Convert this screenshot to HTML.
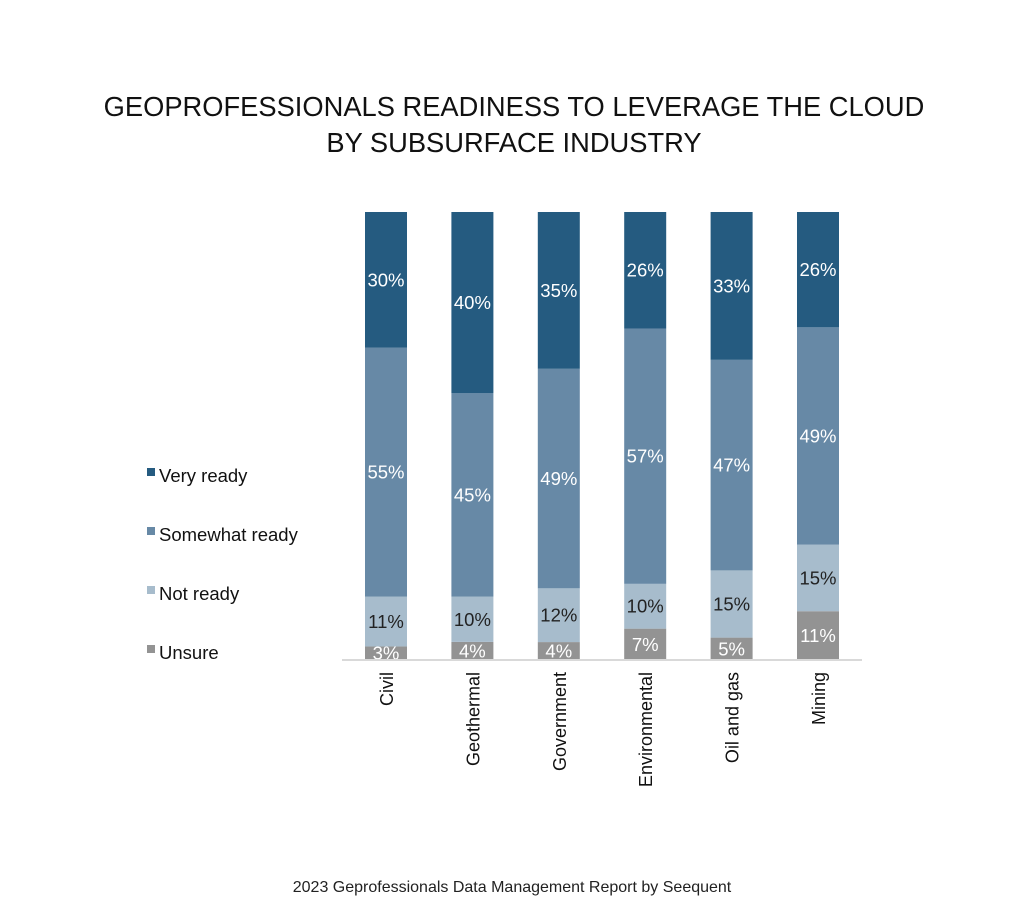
<!DOCTYPE html>
<html><head><meta charset="utf-8"><style>
body{margin:0;background:#fff;width:1024px;height:919px;overflow:hidden;font-family:"Liberation Sans",sans-serif}
svg{display:block}
</style></head><body>
<svg id="chart" width="1024" height="919" viewBox="0 0 1024 919" xmlns="http://www.w3.org/2000/svg">
<text x="514" y="116" text-anchor="middle" font-size="27.3" fill="#111" font-family="Liberation Sans, sans-serif">GEOPROFESSIONALS READINESS TO LEVERAGE THE CLOUD</text>
<text x="514" y="152" text-anchor="middle" font-size="27.3" fill="#111" font-family="Liberation Sans, sans-serif">BY SUBSURFACE INDUSTRY</text>
<g id="bars"></g>
<line x1="342" y1="660" x2="862" y2="660" stroke="#d9d9d9" stroke-width="2"/>
<g id="legend"></g>
<text x="512" y="892" text-anchor="middle" font-size="16" fill="#222">2023 Geprofessionals Data Management Report by Seequent</text>
</svg>
<script>
const categories=["Civil","Geothermal","Government","Environmental","Oil and gas","Mining"];
const unsure=[3,4,4,7,5,11];
const notReady=[11,10,12,10,15,15];
const somewhatReady=[55,45,49,57,47,49];
const veryReady=[30,40,35,26,33,26];
const seriesNames=["Unsure","Not ready","Somewhat ready","Very ready"];
const NS="http://www.w3.org/2000/svg";
const series=[unsure,notReady,somewhatReady,veryReady];
const colors=["#939393","#a7bccc","#6789a6","#255b80"];
const textColors=["#fff","#222","#fff","#fff"];
const plotTop=212,plotBase=660,x0=365,step=86.4,bw=42;
const xPos=i=>x0+i*step;
const yScale=(v,tot)=>(v/tot)*(plotBase-plotTop);
const g=document.getElementById('bars');
categories.forEach((c,i)=>{
  const tot=series.reduce((s,a)=>s+a[i],0);
  let y=plotBase;
  series.forEach((arr,k)=>{
    const h=yScale(arr[i],tot);
    const r=document.createElementNS(NS,'rect');
    
    
    r.setAttribute('x',xPos(i));r.setAttribute('y',y-h);r.setAttribute('width',bw);r.setAttribute('height',h);
    r.setAttribute('fill',colors[k]);g.appendChild(r);
    const t=document.createElementNS(NS,'text');
    
    
    t.setAttribute('x',xPos(i)+bw/2);t.setAttribute('y',y-h/2+6.5);
    t.setAttribute('text-anchor','middle');t.setAttribute('font-size','18.5');t.setAttribute('fill',textColors[k]);
    t.textContent=arr[i]+'%';g.appendChild(t);
    y-=h;
  });
  const l=document.createElementNS(NS,'text');
  
  
  const cx=xPos(i)+bw/2+7, cy=672;
  l.setAttribute('transform','translate('+cx+','+cy+') rotate(-90)');
  l.setAttribute('text-anchor','end');l.setAttribute('font-size','18');l.setAttribute('fill','#111');
  l.textContent=c;g.appendChild(l);
});
const lg=document.getElementById('legend');
const ly=[653,594,535,476];
series.forEach((a,k)=>{
  const r=document.createElementNS(NS,'rect');
  
  
  r.setAttribute('x',147);r.setAttribute('y',ly[k]-8);r.setAttribute('width',8);r.setAttribute('height',8);r.setAttribute('fill',colors[k]);lg.appendChild(r);
  const t=document.createElementNS(NS,'text');
  
  
  t.setAttribute('x',159);t.setAttribute('y',ly[k]+6);t.setAttribute('font-size','18.5');t.setAttribute('fill','#111');
  t.textContent=seriesNames[k];lg.appendChild(t);
});
</script>
</body></html>
